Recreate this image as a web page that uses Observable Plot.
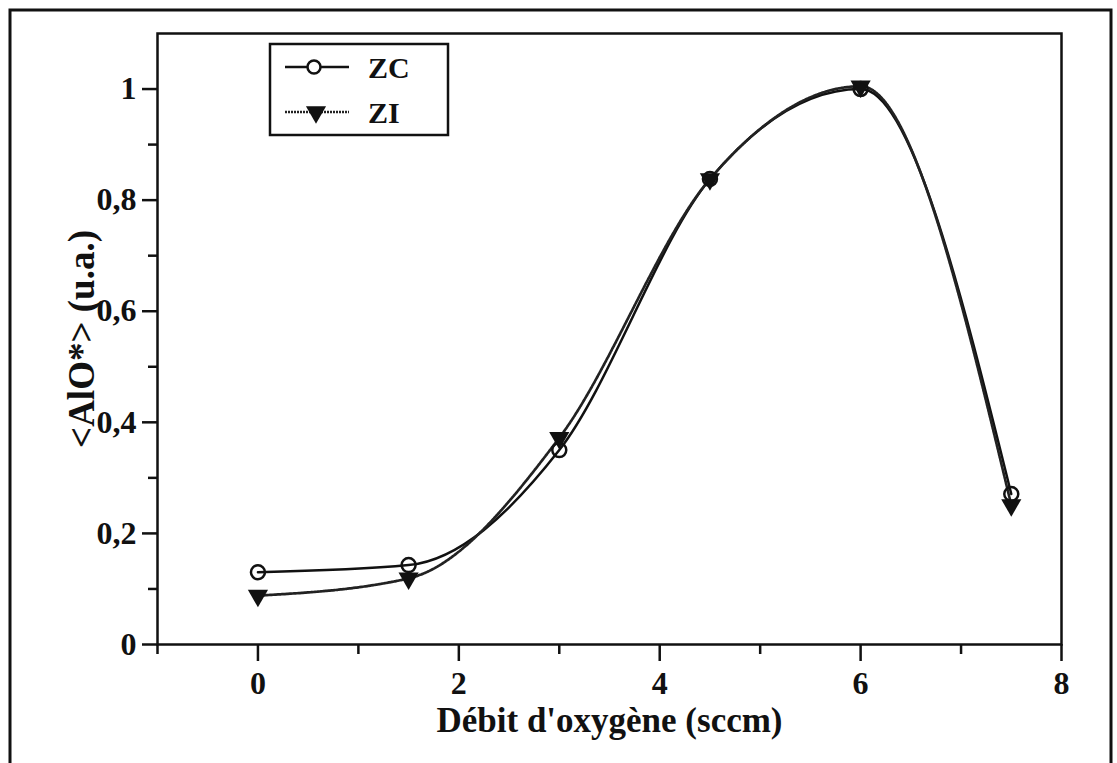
<!DOCTYPE html>
<html><head><meta charset="utf-8">
<script src="https://cdn.jsdelivr.net/npm/d3@7"></script>
<script src="https://cdn.jsdelivr.net/npm/@observablehq/plot@0.6"></script>
<style>
body{margin:0;background:#fff;}
#chart{position:relative;width:1117px;height:763px;overflow:hidden;}
</style></head><body><div id="chart"></div>
<script>
// ---- data ----
const flow = [0, 1.5, 3, 4.5, 6, 7.5];
const zc = [0.130, 0.143, 0.350, 0.838, 1.000, 0.271];
const zi = [0.088, 0.119, 0.372, 0.838, 1.005, 0.251];
const seriesNames = ["ZC", "ZI"];
const xMajor = [0, 2, 4, 6, 8];
const xMinor = [-1, 1, 3, 5, 7];
const yMajor = [0, 0.2, 0.4, 0.6, 0.8, 1];
const yMinor = [0.1, 0.3, 0.5, 0.7, 0.9];
const xTitle = "Débit d'oxygène (sccm)";
const yTitle = "<AlO*> (u.a.)";

const rowsZC = flow.map((x, i) => ({x, y: zc[i]}));
const rowsZI = flow.map((x, i) => ({x, y: zi[i]}));
const fmt = d => String(d).replace(".", ",");
const FONT = "'Liberation Serif','Times New Roman',serif";
const INK = "#111";

const plot = Plot.plot({
  width: 1117, height: 763,
  marginLeft: 157, marginRight: 56, marginTop: 33, marginBottom: 119,
  style: {fontFamily: FONT, fontSize: "32px", fontWeight: "bold", color: INK, background: "transparent", overflow: "visible"},
  x: {domain: [-1, 8]},
  y: {domain: [0, 1.1]},
  marks: [
    Plot.axisX({ticks: xMinor, tickSize: 10, strokeWidth: 2.5, tickFormat: () => "", label: null}),
    Plot.axisX({ticks: xMajor, tickSize: 17, tickPadding: 10, strokeWidth: 2.5, tickFormat: fmt, fontSize: 32, label: null}),
    Plot.axisX({ticks: [], tickSize: 0, fontSize: 35, label: xTitle, labelAnchor: "center", labelArrow: "none", labelOffset: 87}),
    Plot.axisY({ticks: yMinor, tickSize: 9, strokeWidth: 2.5, tickFormat: () => "", label: null}),
    Plot.axisY({ticks: yMajor, tickSize: 15, tickPadding: 6, strokeWidth: 2.5, tickFormat: fmt, fontSize: 32, label: null}),
    Plot.axisY({ticks: [], tickSize: 0, fontSize: 37, label: yTitle, labelAnchor: "center", labelArrow: "none", labelOffset: 90}),
    Plot.frame({stroke: INK, strokeWidth: 2.5}),
    Plot.line(rowsZC, {x: "x", y: "y", curve: "monotone-x", stroke: INK, strokeWidth: 2.5}),
    Plot.line(rowsZI, {x: "x", y: "y", curve: "monotone-x", stroke: "#222", strokeWidth: 2.7, strokeDasharray: "2,1"}),
    Plot.dot(rowsZI, {x: "x", y: "y", symbol: "triangle", rotate: 180, r: 7.5, fill: INK, stroke: "none"}),
    Plot.dot(rowsZC, {x: "x", y: "y", symbol: "circle", r: 7, fill: "none", stroke: INK, strokeWidth: 2.5})
  ]
});
document.getElementById("chart").appendChild(plot);

// outer frame
const svg = d3.select(plot);
svg.append("rect").attr("x", 10).attr("y", 10).attr("width", 1101).attr("height", 800)
  .attr("fill", "none").attr("stroke", INK).attr("stroke-width", 3);

// legend
const lg = svg.append("g").attr("font-family", FONT).attr("font-weight", "bold").attr("font-size", 30)
  .attr("text-anchor", "start");
lg.append("rect").attr("x", 270).attr("y", 44).attr("width", 178).attr("height", 91)
  .attr("fill", "#fff").attr("stroke", INK).attr("stroke-width", 2.5);
seriesNames.forEach((name, i) => {
  const cy = 67 + i * 45;
  lg.append("line").attr("x1", 285).attr("x2", 349).attr("y1", cy).attr("y2", cy)
    .attr("stroke", i === 0 ? INK : "#222").attr("stroke-width", i === 0 ? 2.5 : 2.7)
    .attr("stroke-dasharray", i === 0 ? null : "2,1");
  if (i === 0) {
    lg.append("circle").attr("cx", 314).attr("cy", cy).attr("r", 6.5)
      .attr("fill", "#fff").attr("stroke", INK).attr("stroke-width", 2.5);
  } else {
    lg.append("path").attr("d", d3.symbol(d3.symbolTriangle, Math.PI * 56)())
      .attr("transform", `translate(316,${cy}) rotate(180)`).attr("fill", INK);
  }
  lg.append("text").attr("x", 368).attr("y", cy).attr("dy", "0.35em").attr("fill", INK)
    .attr("text-anchor", "start").text(name);
});
</script>
</body></html>
